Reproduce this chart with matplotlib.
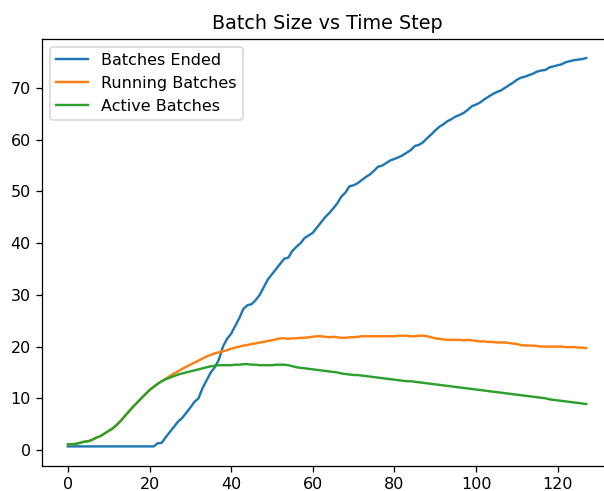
import matplotlib
matplotlib.use("Agg")
import matplotlib.pyplot as plt

# Values, one per time step (0..127)
batches_ended = [
    0.7, 0.7, 0.7, 0.7, 0.7, 0.7, 0.7, 0.7, 0.7, 0.7,
    0.7, 0.7, 0.7, 0.7, 0.7, 0.7, 0.7, 0.7, 0.7, 0.7,
    0.7, 0.7, 1.3, 1.4, 2.5, 3.5, 4.5, 5.5, 6.2, 7.2,
    8.2, 9.3, 10.0, 12.0, 13.5, 15.0, 16.0, 17.5, 20.0, 21.5,
    22.5, 24.0, 25.5, 27.3, 28.0, 28.2, 29.0, 30.0, 31.5, 33.0,
    34.0, 35.0, 36.0, 37.0, 37.2, 38.5, 39.3, 40.0, 41.0, 41.5,
    42.0, 43.0, 44.0, 45.0, 45.8, 46.7, 47.7, 49.0, 49.8, 51.0,
    51.2, 51.6, 52.2, 52.8, 53.3, 54.0, 54.8, 55.0, 55.5, 56.0,
    56.3, 56.6, 57.0, 57.5, 58.0, 58.8, 59.0, 59.5, 60.3, 61.0,
    61.8, 62.5, 63.0, 63.6, 64.0, 64.5, 64.8, 65.2, 65.8, 66.5,
    66.8, 67.2, 67.8, 68.3, 68.8, 69.2, 69.5, 70.0, 70.5, 71.0,
    71.6, 72.0, 72.2, 72.5, 72.8, 73.2, 73.4, 73.5, 74.0, 74.2,
    74.4, 74.6, 75.0, 75.2, 75.4, 75.5, 75.6, 75.8,
]

running_batches = [
    1.1, 1.1, 1.2, 1.4, 1.6, 1.7, 2.0, 2.4, 2.7, 3.2,
    3.7, 4.2, 4.9, 5.7, 6.6, 7.5, 8.4, 9.2, 10.0, 10.8,
    11.6, 12.2, 12.8, 13.3, 13.8, 14.3, 14.8, 15.2, 15.7, 16.1,
    16.5, 16.9, 17.3, 17.7, 18.1, 18.4, 18.7, 18.9, 19.1, 19.3,
    19.6, 19.8, 20.0, 20.2, 20.3, 20.5, 20.6, 20.8, 20.9, 21.1,
    21.2, 21.4, 21.6, 21.6, 21.5, 21.6, 21.6, 21.7, 21.7, 21.8,
    21.9, 22.0, 22.0, 21.9, 21.8, 21.9, 21.8, 21.7, 21.7, 21.8,
    21.8, 21.9, 22.0, 22.0, 22.0, 22.0, 22.0, 22.0, 22.0, 22.0,
    22.0, 22.1, 22.1, 22.1, 22.0, 22.0, 22.1, 22.1, 22.0, 21.8,
    21.6, 21.5, 21.4, 21.3, 21.3, 21.3, 21.3, 21.2, 21.3, 21.2,
    21.1, 21.0, 21.0, 20.9, 20.9, 20.8, 20.8, 20.8, 20.7, 20.6,
    20.5, 20.3, 20.2, 20.2, 20.2, 20.1, 20.0, 20.0, 20.0, 20.0,
    20.0, 20.0, 19.9, 19.9, 19.9, 19.8, 19.8, 19.7,
]

active_batches = [
    1.1, 1.1, 1.2, 1.4, 1.6, 1.7, 2.0, 2.4, 2.7, 3.2,
    3.7, 4.2, 4.9, 5.7, 6.6, 7.5, 8.4, 9.2, 10.0, 10.8,
    11.6, 12.2, 12.8, 13.3, 13.7, 14.0, 14.3, 14.6, 14.8, 15.0,
    15.2, 15.4, 15.6, 15.8, 16.0, 16.2, 16.3, 16.4, 16.4, 16.4,
    16.4, 16.5, 16.5, 16.6, 16.6, 16.5, 16.5, 16.4, 16.4, 16.4,
    16.4, 16.5, 16.5, 16.5, 16.4, 16.2, 16.0, 15.9, 15.8, 15.7,
    15.6, 15.5, 15.4, 15.3, 15.2, 15.1, 15.0, 14.8, 14.7, 14.6,
    14.5, 14.5, 14.4, 14.3, 14.2, 14.1, 14.0, 13.9, 13.8, 13.7,
    13.6, 13.5, 13.4, 13.3, 13.3, 13.2, 13.1, 13.0, 12.9, 12.8,
    12.7, 12.6, 12.5, 12.4, 12.3, 12.2, 12.1, 12.0, 11.9, 11.8,
    11.7, 11.6, 11.5, 11.4, 11.3, 11.2, 11.1, 11.0, 10.9, 10.8,
    10.7, 10.6, 10.5, 10.4, 10.3, 10.2, 10.1, 10.0, 9.8, 9.7,
    9.6, 9.5, 9.4, 9.3, 9.2, 9.1, 9.0, 8.9,
]

steps = list(range(len(batches_ended)))

# reference looks like a default plot rendered ~15% larger, so use dpi 115
DPI = 115
fig = plt.figure(figsize=(604 / DPI, 491 / DPI), dpi=DPI)
ax = fig.add_axes([0.0695, 0.0513, 0.944, 0.870])

ax.plot(steps, batches_ended, label="Batches Ended")
ax.plot(steps, running_batches, label="Running Batches")
ax.plot(steps, active_batches, label="Active Batches")

ax.set_title("Batch Size vs Time Step")
ax.legend(loc="upper left")

fig.savefig("out.png", dpi=DPI)
